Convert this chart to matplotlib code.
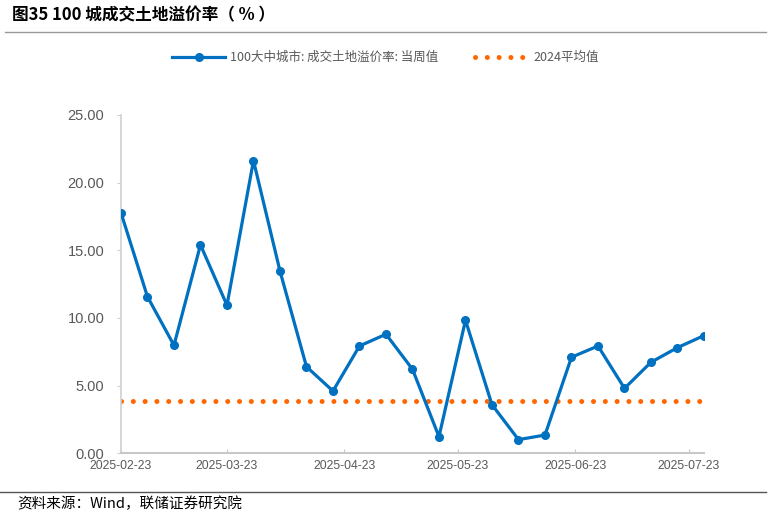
import matplotlib.pyplot as plt
import matplotlib.dates as mdates
import numpy as np
import pandas as pd

plt.rcParams['font.family'] = ['Liberation Sans', 'Noto Sans CJK SC', 'DejaVu Sans']

# weekly dates, 2025-02-23 .. 2025-07-27
dates = pd.date_range('2025-02-23', periods=23, freq='7D')
premium = [17.78, 11.57, 7.98, 15.40, 10.94, 21.63, 13.47, 6.40, 4.60, 7.93, 8.80,
           6.21, 1.23, 9.83, 3.59, 1.01, 1.35, 7.10, 7.93, 4.80, 6.73, 7.81, 8.70]
avg_2024 = 3.85
tick_dates = ['2025-02-23', '2025-03-23', '2025-04-23', '2025-05-23', '2025-06-23', '2025-07-23']
yticks = [0, 5, 10, 15, 20, 25]

blue = '#0070C0'
orange = '#FF6600'
gray = '#595959'

fig = plt.figure(figsize=(7.71, 5.17), dpi=100)
ax = fig.add_axes([0.1569, 0.1232, 0.7562, 0.6544])

ax.plot(dates, premium, color=blue, lw=2.3, marker='o', ms=5.5,
        label='100大中城市: 成交土地溢价率: 当周值', zorder=3)
ax.plot(dates, [avg_2024] * len(dates), color=orange, lw=3.6,
        linestyle=(0, (0.01, 2.35)), dash_capstyle='round',
        label='2024平均值', zorder=2)

ax.set_xlim(dates[0], dates[-1])
ax.set_ylim(0, 25)
ax.set_yticks(yticks)
ax.set_yticklabels([f'{v:.2f}' for v in yticks])
ax.set_xticks(pd.to_datetime(tick_dates))
ax.xaxis.set_major_formatter(mdates.DateFormatter('%Y-%m-%d'))

for s in ['top', 'right']:
    ax.spines[s].set_visible(False)
ax.spines['left'].set_color('#D0D0D0')
ax.spines['bottom'].set_color('#C8C8C8')
ax.spines['left'].set_linewidth(1.2)
ax.spines['bottom'].set_linewidth(1.5)
ax.tick_params(axis='x', direction='in', length=3, color='#C8C8C8',
               labelsize=8.8, labelcolor=gray, pad=5)
ax.tick_params(axis='y', direction='out', length=3, color='#D0D0D0',
               labelsize=10.5, labelcolor=gray, pad=9)

leg = fig.legend(loc='center', bbox_to_anchor=(0.5, 0.889), ncol=2, frameon=False,
                 fontsize=9, handlelength=4.2, columnspacing=2.9, handletextpad=0.45)
for t in leg.get_texts():
    t.set_color(gray)
    t.set_family(['Noto Sans CJK SC', 'DejaVu Sans'])

fig.text(0.016, 0.970, '图35 100 城成交土地溢价率（ % ）', fontsize=12, fontweight='bold',
         va='center', ha='left', family=['Noto Sans CJK SC', 'DejaVu Sans'])
fig.add_artist(plt.Line2D([0.007, 0.993], [0.938, 0.938], color='#999999', lw=1.0))
fig.add_artist(plt.Line2D([0.0, 0.993], [0.048, 0.048], color='#555555', lw=1.0))
fig.text(0.022, 0.025, '资料来源：Wind，联储证券研究院', fontsize=10.5, va='center', ha='left',
         family=['Noto Sans CJK SC', 'DejaVu Sans'])

plt.savefig('out.png', dpi=100)
